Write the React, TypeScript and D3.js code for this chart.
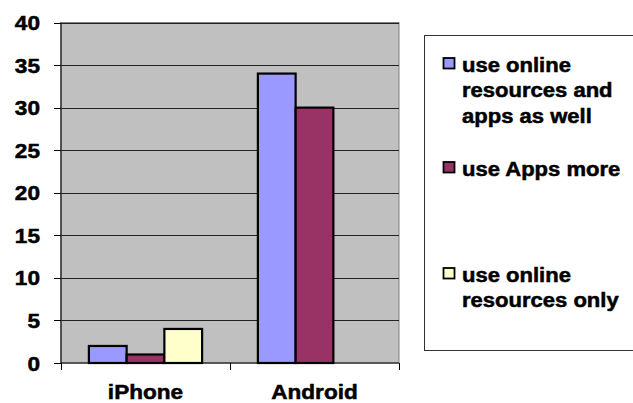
import React, { useEffect, useRef } from 'react';
import * as d3 from 'd3';

const categories = ['iPhone', 'Android'];
const seriesNames = [
  ['use online', 'resources and', 'apps as well'],
  ['use Apps more'],
  ['use online', 'resources only'],
];
const seriesColors = ['#9999FF', '#993366', '#FFFFCC'];
const bothValues = [2, 34];
const appsValues = [1, 30];
const onlineOnlyValues: (number | null)[] = [4, null];
const yTicks = [0, 5, 10, 15, 20, 25, 30, 35, 40];

const App = () => {
  const svgRef = useRef<SVGSVGElement>(null);

  useEffect(() => {
    const svg = d3.select(svgRef.current);
    svg.selectAll('*').remove();

    const width = 633;
    const height = 403;
    const plot = { left: 61, right: 399, top: 22.5, bottom: 363 };
    const stretch = 1.13; // text in the reference is a bit wide
    const font = '"Liberation Sans", Arial, sans-serif';

    svg.attr('width', width).attr('height', height);

    const series = [bothValues, appsValues, onlineOnlyValues];

    const y = d3.scaleLinear().domain([0, 40]).range([plot.bottom, plot.top]);
    const x0 = d3
      .scaleBand()
      .domain(categories)
      .range([plot.left, plot.right])
      .paddingInner(0.33)
      .paddingOuter(0.165);
    const x1 = d3
      .scaleBand()
      .domain(d3.range(series.length).map(String))
      .range([0, x0.bandwidth()]);

    // bold text, a touch heavier like the original
    const addText = (sel, tx: number, ty: number, size: number) =>
      sel
        .append('text')
        .attr('transform', `translate(${tx},${ty}) scale(${stretch},1)`)
        .attr('font-family', font)
        .attr('font-weight', 'bold')
        .attr('font-size', size)
        .attr('fill', '#000')
        .attr('stroke', '#000')
        .attr('stroke-width', 0.5);

    // plot background
    svg
      .append('rect')
      .attr('x', plot.left)
      .attr('y', plot.top)
      .attr('width', plot.right - plot.left)
      .attr('height', plot.bottom - plot.top)
      .attr('fill', '#C0C0C0')
      .attr('stroke', '#808080')
      .attr('stroke-width', 1);

    // gridlines
    svg
      .selectAll('.grid')
      .data(yTicks.filter(t => t > 0))
      .enter()
      .append('line')
      .attr('x1', plot.left)
      .attr('x2', plot.right)
      .attr('y1', d => Math.round(y(d)) + 0.5)
      .attr('y2', d => Math.round(y(d)) + 0.5)
      .attr('stroke', '#222')
      .attr('stroke-width', 1);

    // bars
    series.forEach((vals, si) => {
      svg
        .selectAll(`.bar${si}`)
        .data(categories.map((c, i) => ({ c, v: vals[i] })).filter(d => d.v != null))
        .enter()
        .append('rect')
        .attr('x', d => (x0(d.c) as number) + (x1(String(si)) as number))
        .attr('y', d => y(d.v as number))
        .attr('width', x1.bandwidth())
        .attr('height', d => y(0) - y(d.v as number))
        .attr('fill', seriesColors[si])
        .attr('stroke', '#000')
        .attr('stroke-width', 2.2);
    });

    // axes
    svg
      .append('line')
      .attr('x1', plot.left)
      .attr('x2', plot.left)
      .attr('y1', plot.top)
      .attr('y2', plot.bottom)
      .attr('stroke', '#333')
      .attr('stroke-width', 1.5);
    svg
      .append('line')
      .attr('x1', plot.left)
      .attr('x2', plot.right)
      .attr('y1', plot.bottom)
      .attr('y2', plot.bottom)
      .attr('stroke', '#000')
      .attr('stroke-width', 1.2);

    // y ticks + labels
    yTicks.forEach(t => {
      const ty = Math.round(y(t)) + 0.5;
      svg
        .append('line')
        .attr('x1', 54)
        .attr('x2', plot.left)
        .attr('y1', ty)
        .attr('y2', ty)
        .attr('stroke', '#000');
      addText(svg, 40, y(t) + 7.5, 20).attr('text-anchor', 'end').text(t);
    });

    // x ticks + labels
    const xTickPos = [plot.left, ...categories.map(c => (x0(c) as number) + x0.bandwidth() + x0.step() * 0.165)];
    xTickPos.forEach(px => {
      svg
        .append('line')
        .attr('x1', Math.round(px) + 0.5)
        .attr('x2', Math.round(px) + 0.5)
        .attr('y1', plot.bottom)
        .attr('y2', plot.bottom + 7)
        .attr('stroke', '#000');
    });
    categories.forEach(c => {
      addText(svg, (x0(c) as number) + x0.bandwidth() / 2, 399, 20)
        .attr('text-anchor', 'middle')
        .text(c);
    });

    // legend
    svg
      .append('rect')
      .attr('x', 424.5)
      .attr('y', 35.5)
      .attr('width', 240)
      .attr('height', 315)
      .attr('fill', '#fff')
      .attr('stroke', '#333')
      .attr('stroke-width', 1);

    const legendBaselines = [72, 176, 282];
    seriesNames.forEach((lines, i) => {
      const by = legendBaselines[i];
      svg
        .append('rect')
        .attr('x', 443.5)
        .attr('y', by - 14)
        .attr('width', 11)
        .attr('height', 10.5)
        .attr('fill', seriesColors[i])
        .attr('stroke', '#000')
        .attr('stroke-width', 1.8);
      const txt = addText(svg, 462, by, 19.5);
      lines.forEach((ln, li) => {
        txt
          .append('tspan')
          .attr('x', 0)
          .attr('dy', li === 0 ? 0 : 25.5)
          .text(ln);
      });
    });
  }, []);

  return (
    <div style={{ position: 'absolute', left: 0, top: 0 }}>
      <svg ref={svgRef} style={{ display: 'block' }}></svg>
    </div>
  );
};

export default App;
